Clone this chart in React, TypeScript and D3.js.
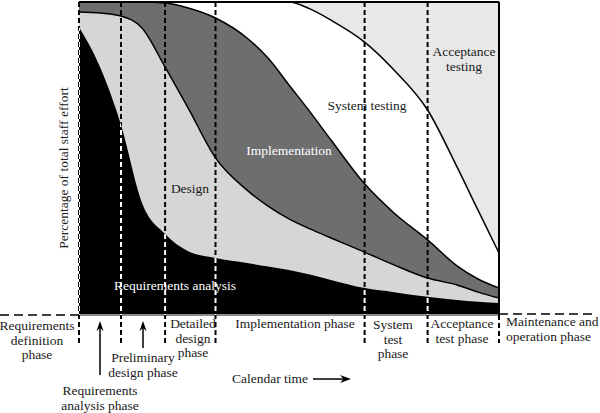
import React, { useEffect, useRef } from 'react'
import * as d3 from 'd3'

// calendar time (0..100) and cumulative percentage of staff effort at each time
const time = [0, 5, 10, 15, 20.5, 26, 32.5, 40, 45, 50, 55, 60, 68, 75, 83, 90, 95, 100]
const requirements = [92, 79.2, 60.7, 35.8, 25.9, 20.4, 18.2, 16.6, 15.5, 14.4, 12.9, 11.2, 8.6, 7.3, 5.8, 4.8, 4.2, 3.8]
const design = [96.8, 96.5, 95.5, 91.7, 79.2, 66.1, 50.2, 39.9, 34.8, 30.7, 27.5, 24.6, 20.1, 16, 11.8, 9.6, 7.3, 5.4]
const implementation = [100, 100, 100, 100, 99.7, 98.1, 94.9, 88.5, 82.1, 73.5, 64.9, 55.9, 41.9, 32.6, 24, 15.7, 11.5, 8.6]
const systemTesting = [100, 100, 100, 100, 100, 100, 100, 100, 100, 100, 97.8, 94.2, 87.2, 78.3, 65.5, 47.3, 33.5, 19.8]

// phase boundaries on the time axis
const phases = [0, 10, 20.5, 32.5, 68, 83, 100]

const W = 600
const H = 413

const App = () => {
  const svg = useRef<SVGSVGElement>(null)

  useEffect(() => {
    const x = d3.scaleLinear().domain([0, 100]).range([79, 499])
    const y = d3.scaleLinear().domain([0, 100]).range([315, 2])

    const area = d3
      .area<number>()
      .x((_, i) => x(time[i]))
      .y0(y(0))
      .y1(d => y(d))
      .curve(d3.curveMonotoneX)
    const line = d3
      .line<number>()
      .x((_, i) => x(time[i]))
      .y(d => y(d))
      .curve(d3.curveMonotoneX)

    const s = d3.select(svg.current)
    s.selectAll('*').remove()

    s.append('clipPath')
      .attr('id', 'blackClip')
      .append('path')
      .attr('d', area(requirements))

    // acceptance testing fills the rest of the box
    s.append('rect')
      .attr('x', x(0))
      .attr('y', y(100))
      .attr('width', x(100) - x(0))
      .attr('height', y(0) - y(100))
      .attr('fill', '#e8e8e8')

    const layers: [number[], string][] = [
      [systemTesting, '#ffffff'],
      [implementation, '#6e6e6e'],
      [design, '#d6d6d6'],
      [requirements, '#000000'],
    ]
    layers.forEach(([d, c]) => {
      s.append('path').attr('d', area(d)).attr('fill', c)
    })
    ;[systemTesting, implementation, design].forEach(d => {
      s.append('path')
        .attr('d', line(d))
        .attr('fill', 'none')
        .attr('stroke', '#000')
        .attr('stroke-width', 1.5)
    })

    // bottom grey line
    s.append('line')
      .attr('x1', x(0))
      .attr('x2', x(100))
      .attr('y1', y(0))
      .attr('y2', y(0))
      .attr('stroke', '#8a8a8a')
      .attr('stroke-width', 2)

    // phase dividers
    phases.slice(0, -1).forEach(p => {
      s.append('line')
        .attr('x1', x(p))
        .attr('x2', x(p))
        .attr('y1', y(100))
        .attr('y2', 343)
        .attr('stroke', '#000')
        .attr('stroke-width', 2)
        .attr('stroke-dasharray', '5 3')
      s.append('line')
        .attr('x1', x(p))
        .attr('x2', x(p))
        .attr('y1', y(100))
        .attr('y2', 343)
        .attr('stroke', '#fff')
        .attr('stroke-width', 2)
        .attr('stroke-dasharray', '5 3')
        .attr('clip-path', 'url(#blackClip)')
    })
    const last = phases[phases.length - 1]
    s.append('line')
      .attr('x1', x(last))
      .attr('x2', x(last))
      .attr('y1', y(100))
      .attr('y2', y(0))
      .attr('stroke', '#000')
      .attr('stroke-width', 2)
    s.append('line')
      .attr('x1', x(last))
      .attr('x2', x(last))
      .attr('y1', y(0))
      .attr('y2', 343)
      .attr('stroke', '#000')
      .attr('stroke-width', 2)
      .attr('stroke-dasharray', '5 3')

    // top border
    s.append('line')
      .attr('x1', x(0))
      .attr('x2', x(100))
      .attr('y1', y(100))
      .attr('y2', y(100))
      .attr('stroke', '#000')
      .attr('stroke-width', 2)

    // horizontal dashed baseline outside the box
    s.append('line')
      .attr('x1', 0)
      .attr('x2', x(0))
      .attr('y1', 315)
      .attr('y2', 315)
      .attr('stroke', '#000')
      .attr('stroke-width', 1.5)
      .attr('stroke-dasharray', '9 5')
    s.append('line')
      .attr('x1', x(100))
      .attr('x2', 592)
      .attr('y1', 314)
      .attr('y2', 314)
      .attr('stroke', '#000')
      .attr('stroke-width', 1.5)
      .attr('stroke-dasharray', '9 5')

    const font = "'Liberation Serif', 'Times New Roman', serif"
    const label = (
      lines: string[],
      cx: number,
      cy: number,
      color = '#1a1a1a',
      anchor = 'middle',
      lh = 14.5
    ) => {
      const t = s
        .append('text')
        .style('font-family', font)
        .style('font-size', '13.5px')
        .attr('fill', color)
        .attr('text-anchor', anchor)
      lines.forEach((l, i) => {
        t.append('tspan').attr('x', cx).attr('y', cy + i * lh).text(l)
      })
    }

    // region labels
    label(['Acceptance', 'testing'], 464, 56, '#1a1a1a', 'middle', 15)
    label(['System testing'], 367, 110)
    label(['Implementation'], 289, 155, '#ffffff')
    label(['Design'], 190, 193)
    label(['Requirements analysis'], 175, 290, '#ffffff')

    // phase labels
    label(['Requirements', 'definition', 'phase'], 37, 330)
    label(['Requirements', 'analysis phase'], 100, 395)
    label(['Preliminary', 'design phase'], 143, 362)
    label(['Detailed', 'design', 'phase'], 193, 328)
    label(['Implementation phase'], 295, 328)
    label(['System', 'test', 'phase'], 393, 329)
    label(['Acceptance', 'test phase'], 462, 328)
    label(['Maintenance and', 'operation phase'], 506, 326, '#1a1a1a', 'start')
    label(['Calendar time'], 232, 383, '#1a1a1a', 'start')

    // y label
    s.append('text')
      .attr('transform', 'translate(68,168) rotate(-90)')
      .style('font-family', font)
      .style('font-size', '13.5px')
      .attr('fill', '#1a1a1a')
      .attr('text-anchor', 'middle')
      .text('Percentage of total staff effort')

    // arrows
    const upArrow = (ax: number, top: number, bottom: number) => {
      s.append('line')
        .attr('x1', ax)
        .attr('x2', ax)
        .attr('y1', top + 4)
        .attr('y2', bottom)
        .attr('stroke', '#000')
        .attr('stroke-width', 1.5)
      s.append('path')
        .attr('d', `M${ax},${top} L${ax - 3.5},${top + 10} L${ax},${top + 7} L${ax + 3.5},${top + 10} Z`)
        .attr('fill', '#000')
    }
    upArrow(100, 321, 375)
    upArrow(143, 321, 348)

    s.append('line')
      .attr('x1', 313)
      .attr('x2', 346)
      .attr('y1', 379)
      .attr('y2', 379)
      .attr('stroke', '#000')
      .attr('stroke-width', 1.5)
    s.append('path')
      .attr('d', 'M351,379 L340,375 L343.5,379 L340,383 Z')
      .attr('fill', '#000')
  }, [])

  return (
    <svg
      ref={svg}
      width={W}
      height={H}
      style={{ position: 'absolute', left: 0, top: 0, background: '#fff' }}
    ></svg>
  )
}

export default App
